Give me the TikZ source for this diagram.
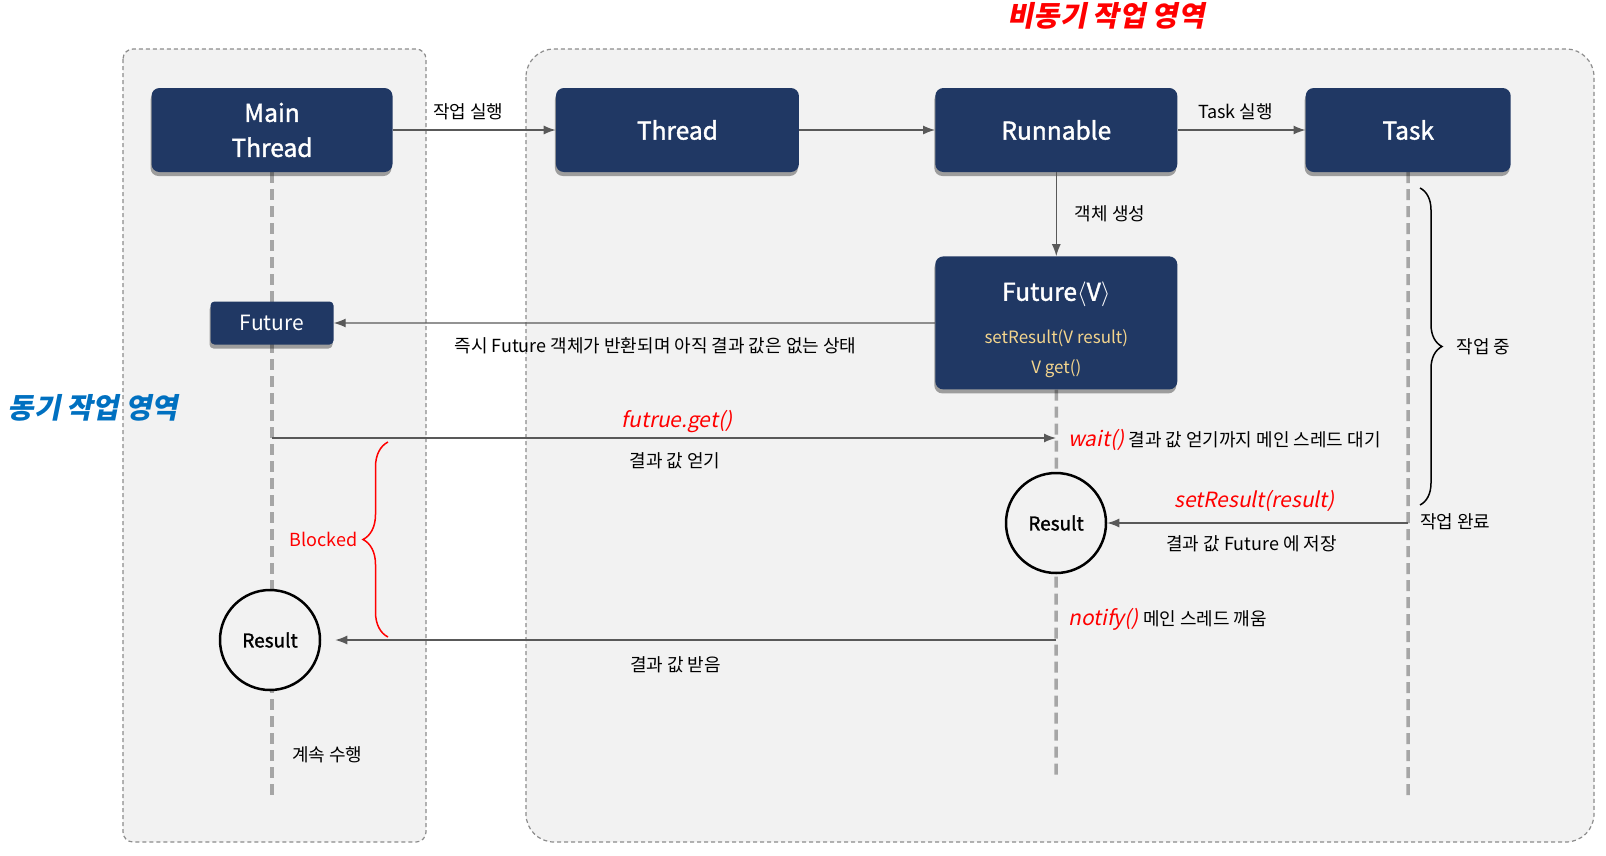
\documentclass[tikz,border=0pt]{standalone}
\usepackage{fontspec}
\setmainfont{Noto Sans CJK KR}
\newfontfamily\slfont[FakeSlant=0.2]{Noto Sans CJK KR}
\newfontfamily\boxfont[FakeBold=1.5]{Noto Sans CJK KR}
\usetikzlibrary{arrows.meta,positioning,shadows,backgrounds,decorations.pathreplacing}

\definecolor{navy}{HTML}{203864}
\definecolor{areabg}{HTML}{F2F2F2}
\definecolor{arealine}{HTML}{8C8C8C}
\definecolor{lifegray}{HTML}{A6A6A6}
\definecolor{gold}{HTML}{F4D58D}
\definecolor{syncblue}{HTML}{0070C0}
\definecolor{msggray}{HTML}{595959}

\newcommand{\call}[1]{{\slfont\color{red}\fontsize{21}{24}\selectfont #1}}
\newcommand{\mth}[1]{{\mdseries\rmfamily\color{gold}\fontsize{17}{20}\selectfont #1}}

\begin{document}
\begin{tikzpicture}[x=1pt,y=-1pt,>={Latex[length=12pt,width=9pt]},
    box/.style={rectangle, rounded corners=8pt, fill=navy, text=white, minimum height=84pt,
      align=center, font=\fontsize{24.5}{35}\selectfont\boxfont,
      drop shadow={shadow xshift=-1pt, shadow yshift=-4pt, opacity=.35, fill=black}},
    smallbox/.style={box, rounded corners=4pt, minimum width=123pt, minimum height=43pt,
      font=\fontsize{21}{24}\selectfont},
    result/.style={circle, draw=black, line width=2.5pt, fill=areabg, minimum size=100pt,
      font=\fontsize{19}{22}\selectfont\boxfont},
    area/.style={draw=arealine, fill=areabg, line width=1.2pt, dash pattern=on 4pt off 3pt},
    lifeline/.style={draw=lifegray, line width=3.5pt, dash pattern=on 11pt off 6pt},
    msg/.style={draw=msggray, line width=1.3pt},
    lbl/.style={font=\fontsize{18}{22}\selectfont, inner sep=2pt},
    redlbl/.style={font=\fontsize{21}{24}\selectfont\slfont, text=red, inner sep=2pt},
    brace/.style={decorate, line width=1.5pt}]
  \useasboundingbox (0,0) rectangle (1606,855);

  % lanes and lifelines
  \node[box, minimum width=241pt] (main) at (272,130) {Main\\Thread};
  \node[box, minimum width=243pt] (thread) [right=163pt of main] {Thread};
  \node[box, minimum width=242pt] (runnable) [right=136pt of thread] {Runnable};
  \node[box, minimum width=205pt] (task) [right=128pt of runnable] {Task};
  \node[box, minimum width=242pt, minimum height=133pt] (futv) [below=84pt of runnable]
    {\rule{0pt}{33pt}Future\(\langle\)V\(\rangle\)\\[8pt]\mth{setResult(V result)}\\[-5pt]\mth{V get()}};
  \node[smallbox] (fut) at (272,323) {Future};
  \node[result] (res) at (1056,523) {Result};
  \node[result] (res0) at (270,640) {Result};

  \coordinate (mainend) at (272,799);
  \coordinate (futend) at (1056,775);
  \coordinate (taskend) at (1408,799);
  \coordinate (get0) at (272,438);
  \coordinate (get1) at (1056,438);
  \coordinate (set0) at (1408,523);
  \coordinate (ntf0) at (1056,640);

  \begin{pgfonlayer}{background}
    \draw[area, rounded corners=10pt] (123,49) rectangle (426,842);
    \draw[area, rounded corners=28pt] (526,49) rectangle (1594,842);
    \draw[lifeline] (main.south) -- (mainend);
    \draw[lifeline] (futv.south) -- (futend);
    \draw[lifeline] (task.south) -- (taskend);
  \end{pgfonlayer}

  % area titles
  \node[font=\fontsize{28.5}{32}\selectfont\bfseries\slfont, text=red] (asyncttl) at (1106,16) {비동기 작업 영역};
  \node[font=\fontsize{28.5}{32}\selectfont\bfseries\slfont, text=syncblue] (syncttl) at (93,408) {동기 작업 영역};

  % messages
  \path[->] (main) edge [msg] node[lbl, above=7pt, xshift=-6pt] {작업 실행} (thread);
  \path[->] (thread) edge [msg] (runnable);
  \path[->] (runnable) edge [msg] node[lbl, above=7pt, xshift=-6pt] {Task 실행} (task);
  \path[->] (runnable) edge [msg] node[lbl, right=16pt] {객체 생성} (futv);
  \path[->] (futv) edge [msg] node[lbl, below=12pt, xshift=21pt] {즉시 Future 객체가 반환되며 아직 결과 값은 없는 상태} (fut);
  \path[->] (get0) edge [msg]
      node[redlbl, above=3pt, xshift=13pt] {futrue.get()}
      node[lbl, below=12pt, xshift=11pt] {결과 값 얻기} (get1);
  \path[->] (set0) edge [msg]
      node[redlbl, above=9pt, xshift=-3pt] {setResult(result)}
      node[lbl, below=10pt, xshift=-6pt] {결과 값 Future 에 저장} (res);
  \path[->] (ntf0) edge [msg, shorten >=14pt] node[lbl, below=14pt, xshift=-13pt] {결과 값 받음} (res0);

  \node[lbl, anchor=west] (waitlbl) at (1066,440) {\call{wait()} 결과 값 얻기까지 메인 스레드 대기};
  \node[lbl, anchor=west] (ntflbl) at (1066,619) {\call{notify()} 메인 스레드 깨움};
  \node[lbl, anchor=west] (donelbl) at (1418,522) {작업 완료};
  \node[lbl, anchor=west] (contlbl) at (290,755) {계속 수행};

  % braces
  \coordinate (run0) at (1420,188);
  \coordinate (run1) at (1420,505);
  \draw[brace, decoration={brace, amplitude=22pt}] (run0) -- (run1)
    node[lbl, midway, right=34pt] {작업 중};
  \coordinate (blk0) at (388,442);
  \coordinate (blk1) at (388,637);
  \draw[brace, red, decoration={brace, amplitude=25pt}] (blk1) -- (blk0)
    node[midway, left=28pt, font=\fontsize{18}{22}\selectfont, text=red, inner sep=2pt] {Blocked};
\end{tikzpicture}
\end{document}
